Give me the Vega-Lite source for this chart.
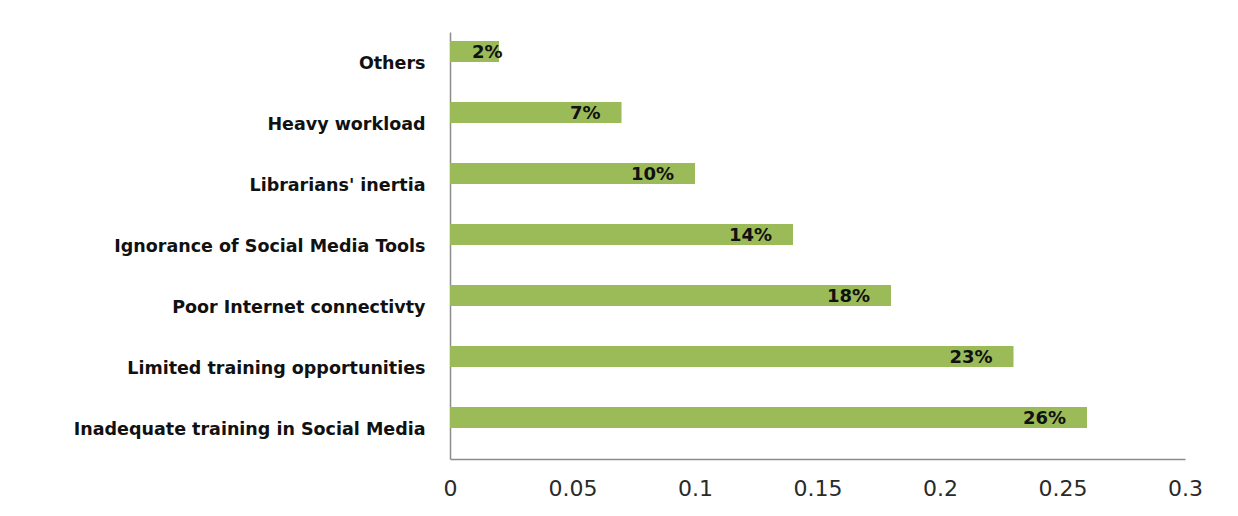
{
  "$schema": "https://vega.github.io/schema/vega-lite/v6.json",
  "autosize": "none",
  "padding": {"left": 450, "top": 32, "right": 53, "bottom": 57},
  "width": 735,
  "height": 427,
  "background": "white",
  "data": {
    "values": [
      {"reason": "Others", "value": 0.02, "label": "2%"},
      {"reason": "Heavy workload", "value": 0.07, "label": "7%"},
      {"reason": "Librarians' inertia", "value": 0.10, "label": "10%"},
      {"reason": "Ignorance of Social Media Tools", "value": 0.14, "label": "14%"},
      {"reason": "Poor Internet connectivty", "value": 0.18, "label": "18%"},
      {"reason": "Limited training opportunities", "value": 0.23, "label": "23%"},
      {"reason": "Inadequate training in Social Media", "value": 0.26, "label": "26%"}
    ]
  },
  "encoding": {
    "y": {
      "field": "reason",
      "type": "nominal",
      "sort": null,
      "scale": {"paddingInner": 0, "paddingOuter": 0},
      "axis": {
        "title": null,
        "ticks": false,
        "domainColor": "#8c8c8c",
        "domainWidth": 1.5,
        "labelFont": "DejaVu Sans",
        "labelFontWeight": "bold",
        "labelFontSize": 17.5,
        "labelColor": "#111111",
        "labelPadding": 25,
        "labelLimit": 500,
        "labelOffset": 1
      }
    },
    "x": {
      "field": "value",
      "type": "quantitative",
      "scale": {"domain": [0, 0.3], "nice": false},
      "axis": {
        "title": null,
        "values": [0, 0.05, 0.1, 0.15, 0.2, 0.25, 0.3],
        "format": "~g",
        "grid": false,
        "ticks": false,
        "domainColor": "#8c8c8c",
        "domainWidth": 1.5,
        "labelFont": "DejaVu Sans",
        "labelFontSize": 22,
        "labelColor": "#2a2a2a",
        "labelPadding": 19,
        "labelFlush": false
      }
    }
  },
  "layer": [
    {
      "mark": {"type": "bar", "color": "#9BBB59", "height": 21, "yOffset": -11}
    },
    {
      "transform": [{"filter": "datum.value >= 0.05"}],
      "mark": {
        "type": "text",
        "align": "right",
        "baseline": "middle",
        "dx": -21,
        "yOffset": -10,
        "font": "DejaVu Sans",
        "fontWeight": "bold",
        "fontSize": 18,
        "color": "#111111"
      },
      "encoding": {"text": {"field": "label"}}
    },
    {
      "transform": [{"filter": "datum.value < 0.05"}],
      "mark": {
        "type": "text",
        "align": "left",
        "baseline": "middle",
        "dx": -27,
        "yOffset": -10,
        "font": "DejaVu Sans",
        "fontWeight": "bold",
        "fontSize": 18,
        "color": "#111111"
      },
      "encoding": {"text": {"field": "label"}}
    }
  ],
  "config": {"view": {"stroke": null}}
}
